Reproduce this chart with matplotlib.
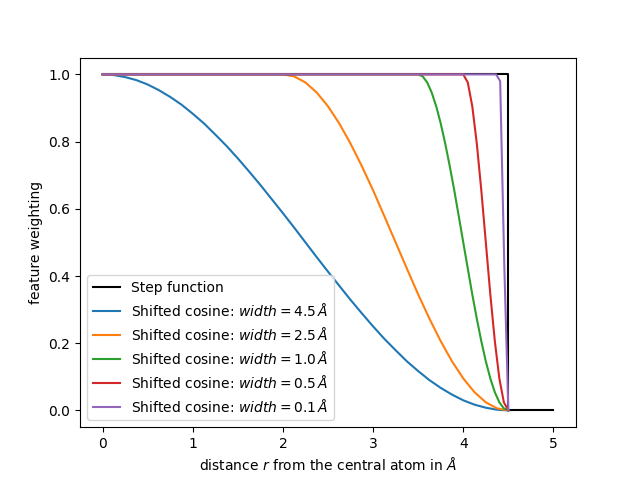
import matplotlib
matplotlib.use("Agg")
import matplotlib.pyplot as plt

# step function (cutoff at 4.5 A)
step_r = [0.0, 4.5, 4.5, 5.0]
step_w = [1.0, 1.0, 0.0, 0.0]

# shifted cosine curves
r_w45 = [0.0, 0.125, 0.25, 0.375, 0.5, 0.625, 0.75, 0.875, 1.0, 1.125, 1.25,
         1.375, 1.5, 1.625, 1.75, 1.875, 2.0, 2.125, 2.25, 2.375, 2.5, 2.625,
         2.75, 2.875, 3.0, 3.125, 3.25, 3.375, 3.5, 3.625, 3.75, 3.875, 4.0,
         4.125, 4.25, 4.375, 4.5]
w_w45 = [1.0, 0.998, 0.992, 0.983, 0.970, 0.953, 0.933, 0.910, 0.883, 0.854,
         0.821, 0.787, 0.75, 0.711, 0.671, 0.629, 0.587, 0.544, 0.5, 0.456,
         0.413, 0.371, 0.329, 0.289, 0.25, 0.213, 0.179, 0.146, 0.117, 0.090,
         0.067, 0.047, 0.030, 0.017, 0.008, 0.002, 0.0]

r_w25 = [0.0, 2.0, 2.125, 2.25, 2.375, 2.5, 2.625, 2.75, 2.875, 3.0, 3.125,
         3.25, 3.375, 3.5, 3.625, 3.75, 3.875, 4.0, 4.125, 4.25, 4.375, 4.5]
w_w25 = [1.0, 1.0, 0.994, 0.976, 0.946, 0.905, 0.854, 0.794, 0.727, 0.655,
         0.578, 0.5, 0.422, 0.345, 0.273, 0.206, 0.146, 0.095, 0.054, 0.024,
         0.006, 0.0]

r_w10 = [0.0, 3.5, 3.55, 3.6, 3.65, 3.7, 3.75, 3.8, 3.85, 3.9, 3.95, 4.0,
         4.05, 4.1, 4.15, 4.2, 4.25, 4.3, 4.35, 4.4, 4.45, 4.5]
w_w10 = [1.0, 1.0, 0.994, 0.976, 0.946, 0.905, 0.854, 0.794, 0.727, 0.655,
         0.578, 0.5, 0.422, 0.345, 0.273, 0.206, 0.146, 0.095, 0.054, 0.024,
         0.006, 0.0]

r_w05 = [0.0, 4.0, 4.05, 4.1, 4.15, 4.2, 4.25, 4.3, 4.35, 4.4, 4.45, 4.5]
w_w05 = [1.0, 1.0, 0.976, 0.905, 0.794, 0.655, 0.5, 0.345, 0.206, 0.095,
         0.024, 0.0]

r_w01 = [0.0, 4.364, 4.409, 4.455, 4.5]
w_w01 = [1.0, 1.0, 0.98, 0.43, 0.0]

curves = [
    (r_w45, w_w45, '4.5'),
    (r_w25, w_w25, '2.5'),
    (r_w10, w_w10, '1.0'),
    (r_w05, w_w05, '0.5'),
    (r_w01, w_w01, '0.1'),
]

fig, ax = plt.subplots(figsize=(6.4, 4.8), dpi=100)

ax.plot(step_r, step_w, color='black', label='Step function')
for r, w, width in curves:
    ax.plot(r, w, label=r'Shifted cosine: $width = %s\,\AA$' % width)

ax.set_xlabel(r'distance $r$ from the central atom in $\AA$')
ax.set_ylabel('feature weighting')
ax.legend(loc='lower left')

fig.savefig('out.png')
